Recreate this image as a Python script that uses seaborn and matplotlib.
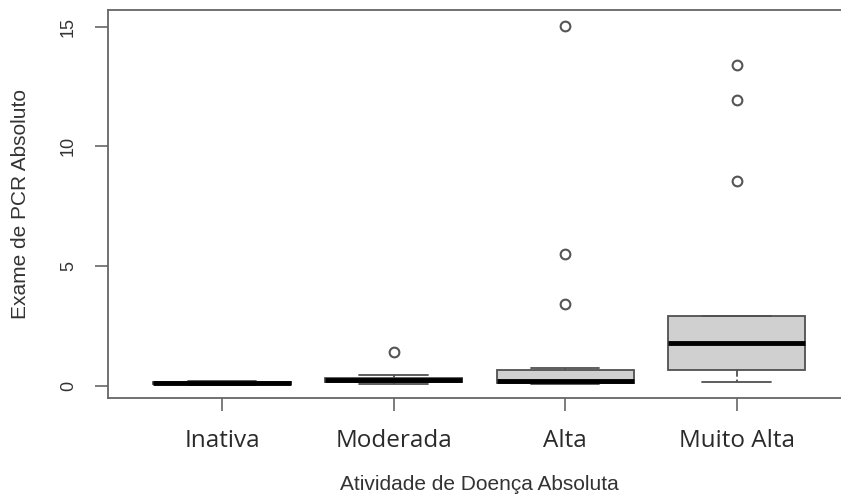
import pandas as pd
import matplotlib.pyplot as plt
import seaborn as sns

# Data (PCR values by disease activity group)
categorias = ["Inativa", "Moderada", "Alta", "Muito Alta"]
inativa = [0.03, 0.06, 0.08, 0.09, 0.10, 0.11, 0.13, 0.15, 0.17]
moderada = [0.05, 0.10, 0.13, 0.20, 0.25, 0.30, 0.33, 0.45, 1.40]
alta = [0.08, 0.09, 0.10, 0.11, 0.12, 0.14, 0.15, 0.18, 0.20,
        0.30, 0.45, 0.55, 0.67, 0.75, 3.40, 5.50, 15.05]
muito_alta = [0.13, 0.40, 0.55, 0.67, 1.00, 1.50, 1.80, 2.20, 2.60,
              2.90, 8.55, 11.95, 13.40]

df = pd.DataFrame({
    "atividade": (["Inativa"] * len(inativa) + ["Moderada"] * len(moderada)
                  + ["Alta"] * len(alta) + ["Muito Alta"] * len(muito_alta)),
    "pcr": inativa + moderada + alta + muito_alta,
})

sns.set_style("white")
plt.rcParams['font.family'] = ['Liberation Sans', 'DejaVu Sans']

W, H = 841, 495
fig = plt.figure(figsize=(W / 100, H / 100), dpi=100)
# plot region in pixels: left 108, right 850 (runs off the image), top 10, bottom 398
ax = fig.add_axes([108 / W, (H - 398) / H, (850 - 108) / W, (398 - 10) / H])

sns.boxplot(
    data=df, x="atividade", y="pcr", order=categorias, ax=ax,
    width=0.8, color="#d0d0d0", saturation=1, linecolor="#505050",
    linewidth=1.3, whis=1.5, capwidths=0.4,
    medianprops=dict(color="black", linewidth=3.5),
    whiskerprops=dict(linestyle="--"),
    flierprops=dict(marker="o", markerfacecolor="none", markeredgecolor="#555555",
                    markersize=7, markeredgewidth=1.5),
)

ax.set_xlim(-0.664, 3.66)
ax.set_ylim(-0.52, 15.7)
ax.set_yticks([0, 5, 10, 15])

for s in ax.spines.values():
    s.set_color("#666666")
    s.set_linewidth(1.3)
    s.set_visible(True)

ax.tick_params(axis="y", left=True, length=9.4, width=1.2, color="#666666",
               pad=13, labelsize=13, labelcolor="#333333", labelrotation=90)
ax.tick_params(axis="x", bottom=True, length=9.4, width=1.2, color="#666666",
               pad=13, labelcolor="#2a2a2a")
for lab in ax.get_yticklabels():
    lab.set_va("center")
for lab in ax.get_xticklabels():
    lab.set_fontfamily(["Open Sans", "DejaVu Sans"])
    lab.set_fontsize(17.5)

ax.set_xlabel("Atividade de Doença Absoluta", fontsize=15, color="#333333")
ax.set_ylabel("Exame de PCR Absoluto", fontsize=15, color="#333333")
ax.xaxis.label.set_va("center")
ax.yaxis.label.set_va("center")
ax.xaxis.set_label_coords(371 / 742, -(484 - 398) / 388)
ax.yaxis.set_label_coords(-(108 - 20) / 742, 194 / 388)

fig.savefig("out.png", dpi=100)
